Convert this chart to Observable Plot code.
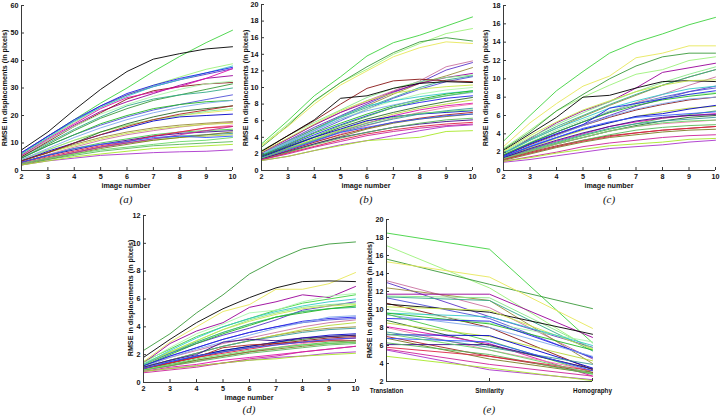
<!DOCTYPE html>
<html>
<head>
<meta charset="utf-8">
<script src="https://cdn.jsdelivr.net/npm/d3@7"></script>
<script src="https://cdn.jsdelivr.net/npm/@observablehq/plot@0.6"></script>
<style>
  html, body { margin: 0; padding: 0; background: #fff; }
  #root { position: relative; width: 720px; height: 417px; overflow: hidden; background: #fff; }
  .pan { position: absolute; }
  .pan svg { overflow: visible; }
  .lbl { position: absolute; font-family: "Liberation Sans", Arial, sans-serif; font-weight: bold; font-size: 7.2px; line-height: 1; color: #111; white-space: nowrap; transform: translate(-50%, -50%); }
  .ylbl { position: absolute; font-family: "Liberation Sans", Arial, sans-serif; font-weight: bold; font-size: 7.2px; line-height: 1; color: #111; white-space: nowrap; transform: translate(-50%, -50%) rotate(-90deg); }
  .cap { position: absolute; font-family: "Liberation Serif", "Times New Roman", serif; font-style: italic; font-size: 11px; line-height: 1; color: #111; white-space: nowrap; transform: translate(-50%, -50%); }
</style>
</head>
<body>
<div id="root"></div>
<script>
// ---------- data ----------
const imageNumbers = [2, 3, 4, 5, 6, 7, 8, 9, 10];
const models = ["Translation", "Similarity", "Homography"];
const yTicksA = [0, 10, 20, 30, 40, 50, 60];
const yTicksB = [0, 2, 4, 6, 8, 10, 12, 14, 16, 18, 20];
const yTicksC = [0, 2, 4, 6, 8, 10, 12, 14, 16, 18];
const yTicksD = [0, 2, 4, 6, 8, 10, 12];
const yTicksE = [2, 4, 6, 8, 10, 12, 14, 16, 18, 20];

const lineColors = [
  "#3fd23f", "#9cf27a", "#3a9a3a", "#e8e85a", "#c9709f", "#5a33c8", "#9a8a3a", "#990099", "#88e888",
  "#33aa88", "#5050d8", "#881515", "#000000", "#c8e84a", "#aaf5aa", "#33c8c8", "#22b822", "#1f1fe8",
  "#80a8ec", "#48c848", "#2a6a2a", "#b8d838", "#dd10aa", "#ee7aaa", "#0000c8", "#3a9a9a", "#aa2222",
  "#7a7a22", "#3a0a8a", "#58b858", "#dd2244", "#aa33cc", "#cc2299", "#a8e828", "#3355ff", "#66d866"
];

// (a) RMSE vs image number
const seriesA = [
  [6.0, 12.5, 18.5, 24.5, 30.0, 36.0, 41.5, 46.5, 51.0],
  [6.0, 11.8, 17.5, 23.0, 27.5, 31.0, 34.0, 36.8, 38.8],
  [4.5, 9.5, 14.5, 19.0, 22.5, 25.5, 27.5, 29.5, 31.5],
  [4.0, 7.5, 11.0, 14.0, 16.5, 18.5, 20.0, 21.0, 22.0],
  [3.0, 5.8, 8.5, 11.0, 13.0, 14.5, 15.8, 16.8, 17.5],
  [6.5, 12.5, 18.0, 23.5, 27.5, 30.5, 33.0, 35.0, 37.0],
  [3.5, 6.5, 9.5, 12.0, 14.0, 15.5, 16.5, 17.2, 17.8],
  [5.5, 11.0, 16.5, 21.5, 25.0, 28.0, 31.0, 33.5, 34.5],
  [4.0, 7.5, 11.0, 14.0, 16.5, 18.5, 20.0, 21.5, 22.5],
  [5.0, 10.0, 15.0, 19.5, 23.5, 26.0, 27.5, 28.5, 30.0],
  [4.5, 9.0, 13.0, 16.5, 19.5, 22.0, 24.0, 25.8, 27.5],
  [5.0, 10.5, 16.0, 21.0, 26.0, 29.0, 30.5, 31.5, 32.0],
  [7.5, 14.0, 22.0, 29.5, 36.0, 40.5, 42.5, 44.2, 45.0],
  [3.5, 6.5, 9.0, 11.5, 13.5, 15.0, 16.0, 16.8, 17.2],
  [5.5, 11.0, 16.0, 20.5, 24.0, 27.0, 29.5, 31.5, 32.5],
  [6.0, 12.0, 18.0, 23.0, 27.0, 30.5, 33.0, 35.5, 38.0],
  [4.5, 9.0, 13.0, 17.0, 20.0, 22.5, 24.0, 25.0, 25.5],
  [6.5, 12.5, 18.5, 23.5, 28.0, 31.0, 33.5, 35.5, 37.5],
  [4.0, 8.0, 12.0, 15.5, 18.5, 21.0, 23.0, 24.5, 25.5],
  [3.0, 5.5, 8.0, 10.0, 11.5, 13.0, 14.0, 14.5, 15.0],
  [3.5, 6.5, 10.0, 14.0, 17.0, 19.5, 21.5, 22.5, 23.5],
  [2.5, 4.5, 6.5, 8.5, 10.0, 11.0, 12.0, 12.5, 13.0],
  [5.5, 11.5, 17.0, 22.5, 26.5, 28.5, 30.5, 33.5, 37.0],
  [2.5, 4.5, 6.5, 8.5, 10.5, 12.5, 14.0, 15.5, 16.5],
  [3.5, 7.0, 10.0, 13.0, 15.5, 18.0, 19.5, 20.0, 20.5],
  [2.5, 4.5, 6.5, 8.5, 10.0, 11.5, 12.5, 13.0, 13.5],
  [3.5, 6.5, 10.0, 13.0, 16.0, 18.5, 20.5, 22.0, 23.5],
  [2.0, 4.0, 6.0, 8.0, 9.5, 11.0, 12.0, 13.0, 14.0],
  [3.0, 5.5, 7.5, 9.5, 11.0, 12.5, 13.5, 14.0, 14.5],
  [2.5, 4.0, 5.5, 7.0, 8.0, 9.0, 9.5, 10.0, 10.5],
  [3.0, 5.0, 7.0, 9.0, 10.5, 12.5, 14.0, 15.5, 16.0],
  [2.0, 3.5, 4.5, 5.5, 6.0, 6.5, 6.8, 7.0, 7.5],
  [2.5, 4.5, 6.5, 8.5, 10.0, 11.5, 13.0, 14.5, 16.0],
  [2.0, 3.5, 5.0, 6.0, 7.0, 8.0, 8.5, 9.0, 9.5],
  [3.0, 5.5, 8.0, 9.5, 10.5, 12.0, 12.5, 12.0, 12.5],
  [2.5, 4.5, 6.0, 7.5, 8.5, 9.5, 10.5, 11.0, 12.0]
];

// (b) translation model
const seriesB = [
  [3.2, 6.0, 9.0, 11.3, 13.8, 15.4, 16.3, 17.4, 18.5],
  [3.0, 5.6, 8.3, 10.6, 12.2, 14.0, 15.3, 16.5, 17.1],
  [2.8, 5.4, 8.4, 10.6, 12.5, 14.2, 15.5, 16.0, 15.6],
  [3.0, 5.3, 8.0, 10.3, 12.0, 13.7, 14.8, 15.5, 15.3],
  [2.2, 3.8, 5.5, 7.0, 8.4, 9.6, 10.8, 12.5, 13.2],
  [2.0, 3.6, 5.2, 6.6, 8.0, 9.4, 10.6, 12.1, 13.0],
  [1.9, 3.4, 5.0, 6.5, 7.8, 9.2, 10.5, 11.4, 12.4],
  [2.1, 3.8, 5.5, 7.0, 8.2, 9.5, 10.5, 11.2, 11.7],
  [2.4, 4.2, 5.8, 7.3, 8.8, 9.9, 10.7, 11.2, 11.5],
  [2.0, 3.5, 5.0, 6.4, 7.6, 8.8, 10.0, 10.9, 11.4],
  [1.8, 3.2, 4.6, 6.0, 7.4, 8.7, 9.8, 10.7, 11.3],
  [2.3, 4.2, 6.0, 8.0, 9.9, 10.8, 11.0, 10.8, 10.7],
  [2.3, 4.2, 6.1, 8.7, 9.0, 9.9, 10.5, 10.7, 10.6],
  [2.2, 3.9, 5.6, 7.2, 8.4, 9.3, 9.8, 10.1, 10.3],
  [2.0, 3.4, 4.8, 6.2, 7.4, 8.4, 9.2, 9.7, 10.0],
  [1.9, 3.3, 4.8, 6.5, 7.8, 8.4, 8.9, 9.3, 9.6],
  [1.8, 3.1, 4.5, 5.7, 6.8, 7.8, 8.6, 9.2, 9.6],
  [1.7, 3.0, 4.3, 5.5, 6.6, 7.6, 8.2, 8.7, 9.0],
  [2.0, 3.4, 4.8, 6.2, 7.2, 7.9, 8.5, 9.0, 9.4],
  [1.6, 2.9, 4.1, 5.4, 6.5, 7.6, 8.4, 9.0, 9.5],
  [1.7, 2.9, 4.0, 5.2, 6.2, 7.0, 7.7, 8.3, 8.8],
  [1.6, 2.7, 3.8, 4.9, 5.9, 6.8, 7.5, 8.0, 8.5],
  [1.5, 2.6, 3.6, 4.7, 5.7, 6.6, 7.3, 7.8, 8.1],
  [1.4, 2.4, 3.4, 4.4, 5.4, 6.3, 7.0, 7.6, 8.0],
  [1.6, 2.8, 4.0, 5.0, 6.0, 6.5, 6.8, 7.0, 7.2],
  [1.5, 2.6, 3.6, 4.6, 5.5, 6.2, 6.8, 7.2, 7.5],
  [1.4, 2.4, 3.4, 4.3, 5.1, 5.8, 6.3, 6.7, 7.0],
  [1.3, 2.2, 3.2, 4.1, 5.0, 5.7, 6.2, 6.5, 6.8],
  [1.4, 2.3, 3.2, 4.0, 4.6, 5.2, 5.6, 5.9, 6.1],
  [1.3, 2.2, 3.1, 3.9, 4.6, 5.2, 5.7, 6.1, 6.3],
  [1.3, 2.1, 2.9, 3.7, 4.4, 4.9, 5.3, 5.6, 5.8],
  [1.2, 1.7, 2.4, 3.1, 3.6, 4.2, 4.8, 5.3, 5.5],
  [1.3, 2.0, 2.8, 3.5, 4.2, 4.7, 5.1, 5.4, 5.6],
  [1.2, 1.7, 2.4, 3.0, 3.6, 3.8, 4.0, 4.7, 4.8],
  [1.5, 2.5, 3.5, 4.6, 5.2, 5.8, 6.2, 6.6, 6.8],
  [1.5, 2.6, 3.7, 4.8, 5.7, 6.4, 6.9, 7.1, 7.3]
];

// (c) similarity model
const seriesC = [
  [3.2, 6.0, 8.7, 10.8, 12.8, 14.0, 14.9, 15.9, 16.7],
  [2.4, 4.4, 6.5, 8.0, 9.3, 10.5, 11.0, 12.0, 12.4],
  [2.3, 4.2, 6.5, 8.3, 10.0, 11.4, 12.4, 12.8, 12.8],
  [2.6, 5.2, 7.3, 9.2, 10.3, 12.3, 12.8, 13.6, 13.6],
  [1.7, 3.0, 4.2, 5.3, 6.4, 7.4, 8.3, 9.3, 10.2],
  [1.6, 2.9, 4.0, 5.0, 6.0, 7.0, 7.8, 8.6, 9.2],
  [1.8, 3.3, 4.6, 5.9, 7.1, 8.2, 9.3, 10.2, 11.0],
  [1.8, 3.5, 5.2, 6.5, 7.5, 9.0, 10.7, 11.2, 11.7],
  [2.0, 3.6, 5.0, 6.3, 7.5, 8.6, 9.6, 10.5, 11.3],
  [1.9, 3.4, 4.8, 6.0, 7.2, 8.3, 9.3, 10.2, 11.0],
  [1.7, 3.0, 4.2, 5.3, 6.4, 7.3, 8.0, 8.6, 9.0],
  [1.6, 2.8, 3.9, 4.9, 5.8, 6.6, 7.2, 7.7, 8.0],
  [2.2, 4.0, 5.8, 8.0, 8.2, 9.0, 9.7, 9.8, 9.7],
  [2.1, 3.8, 5.3, 6.6, 7.6, 8.6, 9.3, 9.8, 9.9],
  [1.8, 3.1, 4.4, 5.5, 6.5, 7.3, 7.9, 8.3, 8.5],
  [1.9, 3.3, 4.6, 5.7, 6.8, 7.6, 8.3, 8.9, 9.2],
  [1.7, 3.0, 4.2, 5.3, 6.3, 7.1, 7.7, 8.1, 8.4],
  [1.6, 2.9, 4.0, 5.0, 6.8, 7.3, 7.8, 8.3, 8.7],
  [1.5, 2.7, 3.8, 4.9, 5.9, 6.7, 7.3, 7.8, 8.0],
  [1.3, 2.2, 3.0, 3.8, 4.5, 5.1, 5.7, 6.1, 6.5],
  [1.3, 2.1, 2.9, 3.6, 4.3, 4.9, 5.4, 5.8, 6.0],
  [1.5, 2.5, 3.5, 4.4, 5.2, 5.9, 6.4, 6.8, 7.0],
  [1.4, 2.3, 3.2, 4.0, 4.8, 5.3, 5.7, 6.0, 6.2],
  [1.3, 2.1, 2.9, 3.6, 4.3, 4.8, 5.1, 5.3, 5.5],
  [1.5, 2.6, 3.6, 4.5, 5.2, 5.9, 6.2, 6.7, 7.1],
  [1.4, 2.3, 3.1, 3.9, 4.6, 5.1, 5.4, 5.6, 5.8],
  [1.2, 2.0, 2.7, 3.3, 3.8, 4.1, 4.4, 4.6, 4.8],
  [1.1, 1.8, 2.5, 3.1, 3.6, 3.9, 4.2, 4.4, 4.5],
  [1.4, 2.4, 3.3, 4.1, 4.8, 5.4, 5.8, 6.0, 6.1],
  [1.2, 1.9, 2.6, 3.3, 3.9, 4.4, 4.7, 4.9, 5.0],
  [1.2, 1.9, 2.6, 3.2, 3.7, 4.1, 4.4, 4.6, 4.8],
  [0.9, 1.2, 1.6, 2.0, 2.4, 2.6, 2.8, 3.1, 3.3],
  [1.0, 1.5, 2.0, 2.6, 3.0, 3.3, 3.6, 3.8, 3.9],
  [1.0, 1.4, 1.9, 2.3, 2.7, 2.9, 3.1, 3.4, 3.5],
  [1.5, 2.6, 3.6, 4.6, 5.3, 5.8, 6.0, 6.2, 6.4],
  [1.3, 2.1, 2.9, 3.6, 4.3, 4.8, 5.2, 5.4, 5.5]
];

// (d) homography model
const seriesD = [
  [1.5, 2.4, 3.3, 4.0, 4.6, 5.2, 5.7, 6.0, 6.3],
  [1.4, 2.2, 2.9, 3.6, 4.2, 4.7, 5.1, 5.3, 5.5],
  [2.3, 3.5, 5.0, 6.3, 7.8, 8.8, 9.6, 9.95, 10.1],
  [1.5, 2.9, 4.0, 5.1, 5.6, 6.7, 6.7, 7.1, 7.9],
  [1.2, 1.8, 2.3, 2.8, 3.2, 3.6, 4.0, 4.3, 4.5],
  [1.3, 2.1, 2.8, 3.4, 3.9, 4.5, 5.2, 5.5, 5.8],
  [1.1, 1.6, 2.1, 2.6, 3.0, 3.4, 3.7, 3.9, 4.0],
  [1.4, 2.8, 3.7, 4.3, 5.4, 5.8, 6.3, 6.1, 6.9],
  [1.3, 2.2, 3.0, 3.8, 4.5, 5.0, 5.4, 5.6, 5.7],
  [1.3, 2.1, 2.9, 3.6, 4.2, 4.7, 5.1, 5.3, 5.4],
  [1.2, 1.9, 2.5, 3.1, 3.6, 4.0, 4.3, 4.5, 4.6],
  [1.0, 1.4, 1.8, 2.2, 2.5, 2.8, 3.0, 3.2, 3.3],
  [1.8, 3.1, 4.3, 5.3, 6.1, 6.8, 7.25, 7.3, 7.25],
  [1.3, 2.2, 3.0, 3.8, 4.4, 4.9, 5.3, 5.5, 5.6],
  [1.4, 2.5, 3.5, 4.2, 5.0, 5.2, 5.8, 6.2, 6.4],
  [1.3, 2.3, 3.2, 4.0, 4.6, 5.1, 5.5, 5.8, 6.0],
  [1.2, 2.0, 2.8, 3.5, 4.1, 4.7, 5.0, 5.3, 5.5],
  [1.2, 1.9, 2.5, 3.1, 3.6, 4.0, 4.4, 4.6, 4.7],
  [1.1, 1.8, 2.4, 2.9, 3.4, 3.9, 4.3, 4.7, 4.8],
  [1.0, 1.3, 1.6, 1.9, 2.2, 2.5, 2.7, 2.9, 3.0],
  [1.0, 1.4, 1.9, 2.3, 2.6, 2.9, 3.1, 3.3, 3.4],
  [1.1, 1.6, 2.1, 2.6, 3.0, 3.4, 3.8, 4.1, 4.3],
  [0.8, 1.1, 1.3, 1.6, 1.8, 2.0, 2.2, 2.4, 2.6],
  [0.9, 1.2, 1.5, 1.9, 2.2, 2.5, 2.8, 3.0, 3.2],
  [1.0, 1.5, 1.9, 2.3, 2.6, 2.9, 3.2, 3.4, 3.5],
  [1.1, 1.6, 2.1, 2.6, 3.0, 3.3, 3.6, 3.8, 3.9],
  [1.0, 1.4, 1.8, 2.5, 2.7, 2.8, 2.9, 3.0, 3.0],
  [0.9, 1.2, 1.6, 1.9, 2.2, 2.4, 2.6, 2.8, 2.9],
  [1.1, 1.6, 2.0, 2.9, 3.1, 3.0, 3.2, 3.3, 3.4],
  [0.9, 1.2, 1.5, 1.8, 2.1, 2.3, 2.5, 2.7, 2.8],
  [1.0, 1.4, 1.8, 2.1, 2.4, 2.7, 2.9, 3.1, 3.2],
  [0.8, 1.0, 1.2, 1.4, 1.6, 1.8, 1.9, 2.1, 2.2],
  [0.7, 0.9, 1.1, 1.4, 1.7, 1.9, 2.2, 2.4, 2.6],
  [0.8, 1.0, 1.2, 1.4, 1.6, 1.7, 1.9, 2.0, 2.1],
  [1.0, 1.5, 1.9, 2.2, 2.5, 2.7, 2.9, 3.1, 3.2],
  [0.9, 1.3, 1.7, 2.0, 2.3, 2.5, 2.7, 2.8, 2.9]
];

const yLabelText = "RMSE in displacements (in pixels)";
const xLabelText = "image number";

// ---------- drawing ----------
const root = document.getElementById("root");
const axisColor = "#3a3a3a";
const fontStyle = {fontFamily: "'Liberation Sans', Arial, sans-serif", fontSize: "7.2px", fontWeight: "bold", background: "transparent", color: "#111", overflow: "visible"};

function rowsFor(series) {
  return series.flatMap((vals, i) => vals.map((v, j) => ({x: imageNumbers[j], y: v, id: i, c: lineColors[i]})));
}

function addDiv(cls, text, x, y) {
  const d = document.createElement("div");
  d.className = cls; d.textContent = text;
  d.style.left = x + "px"; d.style.top = y + "px";
  root.appendChild(d);
}

function place(svg, left, top) {
  const wrap = document.createElement("div");
  wrap.className = "pan";
  wrap.style.left = left + "px"; wrap.style.top = top + "px";
  wrap.appendChild(svg);
  root.appendChild(wrap);
}

function numberPanel(series, yDomain, yTicks, box) {
  return Plot.plot({
    width: box.w, height: box.h,
    marginLeft: box.ml, marginRight: box.mr, marginTop: box.mt, marginBottom: box.mb,
    style: fontStyle,
    color: {type: "identity"},
    x: {domain: [2, 10]},
    y: {domain: yDomain},
    marks: [
      Plot.line(rowsFor(series), {x: "x", y: "y", z: "id", stroke: "c", strokeWidth: 0.9}),
      Plot.ruleX([2], {stroke: axisColor}),
      Plot.ruleY([yDomain[0]], {stroke: axisColor}),
      Plot.axisX({ticks: imageNumbers, tickSize: -3, tickPadding: 6, label: null, stroke: axisColor, tickFormat: d3.format("d")}),
      Plot.axisY({ticks: yTicks, tickSize: -3, tickPadding: 6, label: null, stroke: axisColor, tickFormat: d3.format("d")})
    ]
  });
}

// (a)
place(numberPanel(seriesA, [0, 60], yTicksA, {w: 240, h: 185, ml: 21, mr: 8, mt: 5, mb: 15}), 0, 0);
// (b)
place(numberPanel(seriesB, [0, 20], yTicksB, {w: 240, h: 185, ml: 21, mr: 8, mt: 4, mb: 15}), 240, 0);
// (c)
place(numberPanel(seriesC, [0, 18], yTicksC, {w: 240, h: 185, ml: 23, mr: 5, mt: 5, mb: 15}), 480, 0);
// (d)
place(numberPanel(seriesD, [0, 12], yTicksD, {w: 240, h: 190, ml: 23, mr: 5, mt: 10, mb: 13}), 120, 205);

// (e) comparison of models at image 10
const rowsE = seriesB.flatMap((vals, i) => [
  {m: models[0], y: seriesB[i][8], id: i, c: lineColors[i]},
  {m: models[1], y: seriesC[i][8], id: i, c: lineColors[i]},
  {m: models[2], y: seriesD[i][8], id: i, c: lineColors[i]}
]);
place(Plot.plot({
  width: 250, height: 190,
  marginLeft: 26, marginRight: 18, marginTop: 14, marginBottom: 14,
  style: fontStyle,
  color: {type: "identity"},
  x: {type: "point", domain: models, padding: 0},
  y: {domain: [2, 20]},
  marks: [
    Plot.line(rowsE, {x: "m", y: "y", z: "id", stroke: "c", strokeWidth: 0.9}),
    Plot.ruleX([models[0]], {stroke: axisColor}),
    Plot.ruleY([2], {stroke: axisColor}),
    Plot.axisX({tickSize: -3, tickPadding: 10, label: null, stroke: axisColor, fontSize: 6.3}),
    Plot.axisY({ticks: yTicksE, tickSize: -3, tickPadding: 6, label: null, stroke: axisColor, tickFormat: d3.format("d")})
  ]
}), 360, 205);
</script>
<script>
// labels and captions
addDiv("ylbl", yLabelText, 5, 88);
addDiv("ylbl", yLabelText, 246, 88);
addDiv("ylbl", yLabelText, 486, 88);
addDiv("ylbl", yLabelText, 131, 298);
addDiv("ylbl", yLabelText, 370, 300);
addDiv("lbl", xLabelText, 126, 186);
addDiv("lbl", xLabelText, 366, 186);
addDiv("lbl", xLabelText, 609, 186);
addDiv("lbl", xLabelText, 249, 398);
addDiv("cap", "(a)", 126, 199);
addDiv("cap", "(b)", 366, 199);
addDiv("cap", "(c)", 609, 199);
addDiv("cap", "(d)", 249, 409);
addDiv("cap", "(e)", 489, 409);
</script>
</body>
</html>
